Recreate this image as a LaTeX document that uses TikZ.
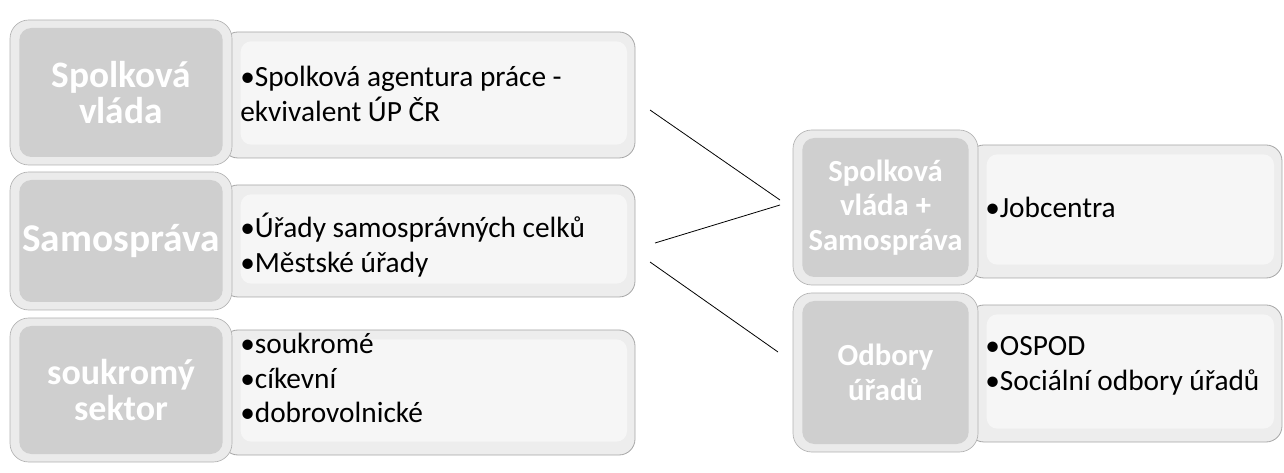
\documentclass[tikz,border=0pt]{standalone}
\usepackage{fontspec}
\setmainfont{Carlito}
\begin{document}
\begin{tikzpicture}[x=0.75pt,y=-0.75pt,
  lbl/.style={draw=gray!60, line width=0.5pt, rounded corners=14pt, fill=gray!16,
    text=white, font=\bfseries, align=center, inner sep=0pt,
    path picture={\fill[gray!38, rounded corners=9pt]
      ([xshift=7pt,yshift=-6pt]path picture bounding box.north west) rectangle
      ([xshift=-7pt,yshift=6pt]path picture bounding box.south east);}},
  cnt/.style={draw=gray!70, line width=0.6pt, rounded corners=12pt, fill=gray!14, inner sep=0pt,
    path picture={\fill[gray!7, rounded corners=8pt]
      ([xshift=14pt,yshift=-7pt]path picture bounding box.north west) rectangle
      ([xshift=-6pt,yshift=10pt]path picture bounding box.south east);}},
  big/.style={font=\bfseries\fontsize{28}{27}\selectfont},
  small/.style={font=\bfseries\fontsize{23}{26}\selectfont},
  txt/.style={anchor=west, align=left, inner sep=0pt, text=black,
    font=\fontsize{22}{26}\selectfont},
  conn/.style={line width=0.6pt, black}]
\useasboundingbox (0,0) rectangle (1284,473);
% left column: content boxes first
\node[cnt, minimum width={413*0.75pt}, minimum height={126*0.75pt}] (C1) at (428.5,95) {};
\node[cnt, minimum width={413*0.75pt}, minimum height={112*0.75pt}] (C2) at (428.5,241) {};
\node[cnt, minimum width={413*0.75pt}, minimum height={125*0.75pt}] (C3) at (428.5,392.5) {};
\node[lbl, big, minimum width={222*0.75pt}, minimum height={145*0.75pt}] (L1) at (121,92.5) {Spolková\\vláda};
\node[lbl, big, font=\bfseries\fontsize{29.5}{30}\selectfont, minimum width={222*0.75pt}, minimum height={138*0.75pt}] (L2) at (121,241) {Samospráva};
\node[lbl, big, font=\bfseries\fontsize{27}{27}\selectfont, minimum width={222*0.75pt}, minimum height={144*0.75pt}] (L3) at (121,390) {soukromý\\sektor};
\node[txt] (T1) at (240,94) {•Spolková agentura práce -\\ekvivalent ÚP ČR};
\node[txt] (T2) at (240,245) {•Úřady samosprávných celků\\•Městské úřady};
\node[txt] (T3) at (240,378) {•soukromé\\•cíkevní\\•dobrovolnické};
% right column
\node[cnt, minimum width={314*0.75pt}, minimum height={133*0.75pt}] (RC1) at (1125,211.5) {};
\node[cnt, minimum width={314*0.75pt}, minimum height={137*0.75pt}] (RC2) at (1125,373.5) {};
\node[lbl, small, minimum width={185*0.75pt}, minimum height={155*0.75pt}] (R1) at (885.5,207.5) {Spolková\\vláda +\\Samospráva};
\node[lbl, small, minimum width={185*0.75pt}, minimum height={159*0.75pt}] (R2) at (885.5,372.5) {Odbory\\úřadů};
\node[txt] (TR1) at (985,207) {•Jobcentra};
\node[txt] (TR2) at (985,366) {•OSPOD\\•Sociální odbory úřadů};
% connectors
\coordinate (a1) at (650,110);
\coordinate (b1) at (780,200);
\coordinate (a2) at (655,243);
\coordinate (b2) at (780,205);
\coordinate (a3) at (650,262);
\coordinate (b3) at (778,352);
\draw[conn] (a1) -- (b1);
\draw[conn] (a2) -- (b2);
\draw[conn] (a3) -- (b3);
\end{tikzpicture}
\end{document}
